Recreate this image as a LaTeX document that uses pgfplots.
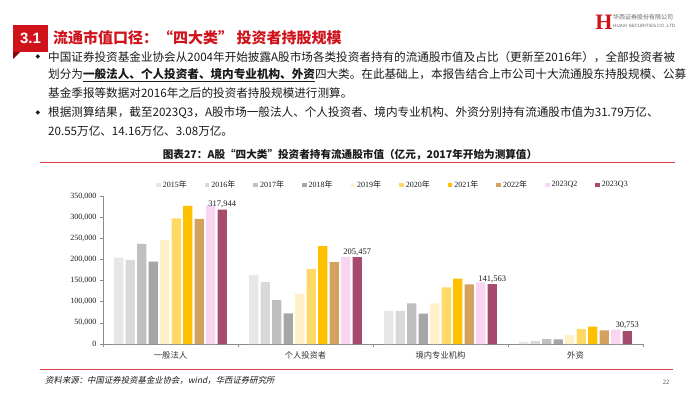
\documentclass[border=0pt]{standalone}
\usepackage{fontspec}
\usepackage{pgfplots}
\pgfplotsset{compat=1.18}
\setmainfont{Liberation Serif}
\newfontfamily\cjk{Noto Sans CJK SC}
\newfontfamily\cjkit[FakeSlant=0.2]{Noto Sans CJK SC}
\newfontfamily\lsans{Liberation Sans}
\newfontfamily\dejavu{DejaVu Sans}
\definecolor{c15}{HTML}{E7E7E7}
\definecolor{c16}{HTML}{D9D9D9}
\definecolor{c17}{HTML}{BFBFBF}
\definecolor{c18}{HTML}{A6A6A6}
\definecolor{c19}{HTML}{FFF0C9}
\definecolor{c20}{HTML}{FFD966}
\definecolor{c21}{HTML}{FFC000}
\definecolor{c22}{HTML}{D5A15E}
\definecolor{cq2}{HTML}{F9D5F2}
\definecolor{cq3}{HTML}{A64B6E}
\definecolor{hxred}{HTML}{D0121B}
\definecolor{txt}{HTML}{1A1A1A}
\pgfplotsset{mybar/.style={fill=#1, draw=none,
  legend image code/.code={\fill[fill=#1] (0pt,-2.3pt) rectangle (4.6pt,2.3pt);}}}
\begin{document}
\begin{tikzpicture}[x=1pt,y=1pt]
\useasboundingbox (0,0) rectangle (700,392);
\fill[white] (0,0) rectangle (700,392);
% header box
\fill[hxred] (13,340) rectangle (48,367);
\fill[hxred!60!black] (13,340) -- (20,340) -- (13,333) -- cycle;
\node[text=white, font=\lsans\bfseries\fontsize{15}{16}\selectfont, inner sep=0] at (30.5,353.5) {3.1};
\node[anchor=west, inner sep=0, text=hxred, font=\cjk\bfseries\fontsize{15}{16}\selectfont] at (53,354) {流通市值口径：“四大类” 投资者持股规模};
% logo
\node[text=hxred, font=\bfseries\fontsize{22}{22}\selectfont, inner sep=0] at (604,370) {H};
\node[anchor=west, inner sep=0, text=black!60, font=\cjk\fontsize{6}{7}\selectfont] at (613,375) {华西证券股份有限公司};
\node[anchor=west, inner sep=0, text=black!60, font=\lsans\fontsize{4.6}{5}\selectfont] at (613,366) {HUAXI SECURITIES CO.,LTD.};
% bullets
\node[inner sep=0, text=txt, font=\dejavu\fontsize{6}{7}\selectfont] at (38,335) {◆};
\node[inner sep=0, text=txt, font=\dejavu\fontsize{6}{7}\selectfont] at (38,279) {◆};
\begin{scope}[every node/.style={anchor=west, inner sep=0, text=txt, font=\cjk\fontsize{11.6}{13}\selectfont}]
\node at (48,335) {中国证券投资基金业协会从2004年开始披露A股市场各类投资者持有的流通股市值及占比（更新至2016年），全部投资者被};
\node at (48,317) {划分为\underline{\textbf{一般法人、个人投资者、境内专业机构、外资}}四大类。在此基础上，本报告结合上市公司十大流通股东持股规模、公募};
\node at (48,299) {基金季报等数据对2016年之后的投资者持股规模进行测算。};
\node at (48,279) {根据测算结果，截至2023Q3，A股市场一般法人、个人投资者、境内专业机构、外资分别持有流通股市值为31.79万亿、};
\node at (48,261) {20.55万亿、14.16万亿、3.08万亿。};
\end{scope}
% chart title
\node[inner sep=0, text=txt, font=\cjk\bfseries\fontsize{10.6}{11}\selectfont] at (350,237) {图表27：A股“四大类”投资者持有流通股市值（亿元，2017年开始为测算值）};
\draw[hxred!80, line width=0.9pt] (40,230) -- (675,230);
% bottom
\draw[hxred!80, line width=0.9pt] (40,23) -- (673,23);
\node[anchor=west, inner sep=0, text=txt, font=\cjkit\fontsize{8.4}{9}\selectfont] at (45,12) {资料来源：中国证券投资基金业协会，wind，华西证券研究所};
\node[inner sep=0, text=black!70, font=\fontsize{6.5}{7}\selectfont] at (666,10) {22};
\begin{axis}[
  at={(103pt,48pt)}, anchor=south west,
  scale only axis, width=540pt, height=148pt,
  ybar=2.2pt, bar width=9.3pt,
  xmin=-0.5, xmax=3.5, ymin=0, ymax=350000,
  axis x line*=bottom, axis y line*=left,
  axis line style={draw=black!45, line width=0.6pt},
  tick style={draw=black!45, line width=0.6pt},
  major tick length=3pt, tick align=outside,
  xtick={-0.5,0.5,1.5,2.5,3.5}, xticklabels={},
  extra x ticks={0,1,2,3},
  extra x tick labels={一般法人,个人投资者,境内专业机构,外资},
  extra x tick style={tick style={draw=none}, xticklabel style={font=\cjk\fontsize{8.3}{9}\selectfont, text=black!80, yshift=-1pt}},
  ytick={0,50000,100000,150000,200000,250000,300000,350000},
  scaled y ticks=false,
  yticklabel style={font=\fontsize{8}{9}\selectfont, text=txt,
    /pgf/number format/.cd, fixed, 1000 sep={,}, assume math mode=true},
  legend columns=10,
  legend style={draw=none, fill=none, at={(0.537,1.074)}, anchor=center,
    font=\fontsize{8}{9}\selectfont, text=txt,
    /tikz/every even column/.append style={column sep=16pt}},
  clip=false,
]
\addplot[mybar=c15] coordinates {(0,204500) (1,162800) (2,78200) (3,5000)};
\addplot[mybar=c16] coordinates {(0,199000) (1,146300) (2,78200) (3,6800)};
\addplot[mybar=c17] coordinates {(0,236700) (1,103800) (2,96000) (3,11500)};
\addplot[mybar=c18] coordinates {(0,195100) (1,72600) (2,72000) (3,10800)};
\addplot[mybar=c19] coordinates {(0,245400) (1,118500) (2,96000) (3,21500)};
\addplot[mybar=c20] coordinates {(0,297300) (1,177800) (2,133700) (3,35000)};
\addplot[mybar=c21] coordinates {(0,326400) (1,231200) (2,154500) (3,41000)};
\addplot[mybar=c22] coordinates {(0,295700) (1,193800) (2,141200) (3,32000)};
\addplot[mybar=cq2] coordinates {(0,328000) (1,206000) (2,145500) (3,34000)};
\addplot[mybar=cq3, nodes near coords={\pgfmathprintnumber[fixed,precision=0,1000 sep={,},assume math mode=true]{\pgfplotspointmeta}},
  every node near coord/.append style={font=\fontsize{8.5}{9}\selectfont, text=txt, inner sep=1.5pt}]
  coordinates {(0,317944) (1,205457) (2,141563) (3,30753)};
\legend{2015{\cjk 年},2016{\cjk 年},2017{\cjk 年},2018{\cjk 年},2019{\cjk 年},2020{\cjk 年},2021{\cjk 年},2022{\cjk 年},2023Q2,2023Q3}
\end{axis}
\end{tikzpicture}
\end{document}
